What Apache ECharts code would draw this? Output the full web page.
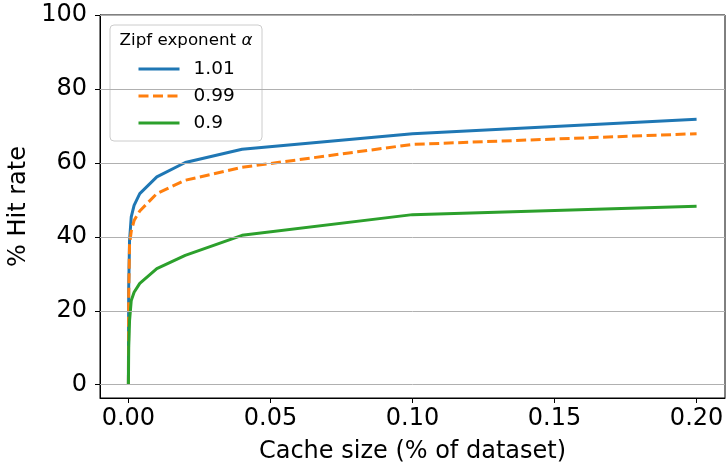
<!DOCTYPE html>
<html>
<head>
<meta charset="utf-8">
<script src="https://cdn.jsdelivr.net/npm/echarts@6/dist/echarts.min.js"></script>
<style>
html,body{margin:0;padding:0;background:#fff;}
#chart{width:726px;height:465px;}
</style>
</head>
<body>
<div id="chart"></div>
<script>
// Data
const cacheSize = [0, 0.0001, 0.0004, 0.001, 0.002, 0.004, 0.01, 0.02, 0.04, 0.1, 0.2];
const hit101 = [0, 26, 39, 45.4, 48.5, 51.7, 56.2, 60.1, 63.7, 67.9, 71.8];
const hit099 = [0, 24, 38, 41.5, 44.4, 47.0, 51.7, 55.3, 58.8, 65.0, 67.9];
const hit090 = [0, 10, 17.3, 22.8, 25.0, 27.4, 31.4, 35.0, 40.4, 46.0, 48.3];
const seriesNames = ['1.01', '0.99', '0.9'];
const xTicks = [0, 0.05, 0.1, 0.15, 0.2];
const yTicks = [0, 20, 40, 60, 80, 100];
const legendTitle = 'Zipf exponent ';
const xTitle = 'Cache size (% of dataset)';
const yTitle = '% Hit rate';

const FONT = 'DejaVu Sans';
const pair = (xs, ys) => xs.map((x, i) => [x, ys[i]]);

const chart = echarts.init(document.getElementById('chart'), null, {renderer: 'canvas'});
const lineSeries = (name, data, color, dashed) => ({
  name: name,
  type: 'line',
  data: pair(cacheSize, data),
  symbol: 'none',
  clip: false,
  z: 3,
  lineStyle: {color: color, width: 3, type: dashed ? [10, 4.5] : 'solid', cap: 'butt', join: 'round'},
  itemStyle: {color: color}
});

chart.setOption({
  animation: false,
  textStyle: {fontFamily: FONT},
  grid: {left: 100, right: 1, top: 15, bottom: 67, containLabel: false, outerBoundsMode: 'none',
    show: true, borderColor: '#000', borderWidth: 1, backgroundColor: 'transparent'},
  xAxis: {
    type: 'value', min: -0.01, max: 0.21,
    axisLine: {show: true, onZero: false, lineStyle: {color: '#000', width: 1}},
    axisTick: {show: true, customValues: xTicks, length: 5, lineStyle: {color: '#000', width: 1}},
    axisLabel: {customValues: xTicks, formatter: v => v.toFixed(2), color: '#000', fontSize: 24, fontFamily: FONT, margin: 9},
    splitLine: {show: false},
    name: xTitle, nameLocation: 'middle', nameGap: 42,
    nameTextStyle: {color: '#000', fontSize: 24, fontFamily: FONT}
  },
  yAxis: {
    type: 'value', min: -3.6, max: 100,
    axisLine: {show: true, onZero: false, lineStyle: {color: '#000', width: 1}},
    axisTick: {show: true, customValues: yTicks, length: 5, lineStyle: {color: '#000', width: 1}},
    axisLabel: {customValues: yTicks, color: '#000', fontSize: 24, fontFamily: FONT, margin: 13},
    splitLine: {show: false},
    name: yTitle, nameLocation: 'middle', nameGap: 57, nameRotate: 90,
    nameTextStyle: {color: '#000', fontSize: 24, fontFamily: FONT}
  },
  legend: {
    orient: 'vertical', left: 110, top: 25, z: 10,
    data: seriesNames,
    padding: [34, 20, 9, 27],
    itemWidth: 41, itemHeight: 2, itemGap: 7,
    lineStyle: {width: 3},
    textStyle: {color: '#000', fontSize: 18.5, lineHeight: 20, fontFamily: FONT, padding: [0, 0, 0, 9]}
  },
  graphic: [
    {type: 'rect', z: 5, shape: {x: 110, y: 25, width: 152, height: 116, r: 4},
     style: {fill: 'rgba(255,255,255,0.8)', stroke: '#cccccc', lineWidth: 1}},
    {type: 'text', z: 11, x: 186, y: 41,
     style: {text: legendTitle + '{a|α}', align: 'center', verticalAlign: 'middle', fill: '#000',
       font: '16.7px "DejaVu Sans"', rich: {a: {fontStyle: 'italic', fontSize: 16.7, fontFamily: FONT, fill: '#000'}}}}
  ],
  series: [
    {
      type: 'line', data: [], silent: true, z: 1,
      markLine: {
        silent: true, symbol: 'none', animation: false,
        label: {show: false},
        lineStyle: {color: '#b0b0b0', width: 1, type: 'solid'},
        data: yTicks.map(v => ({yAxis: v}))
      }
    },
    lineSeries(seriesNames[0], hit101, '#1f77b4', false),
    lineSeries(seriesNames[1], hit099, '#ff7f0e', true),
    lineSeries(seriesNames[2], hit090, '#2ca02c', false)
  ]
});
</script>
</body>
</html>
